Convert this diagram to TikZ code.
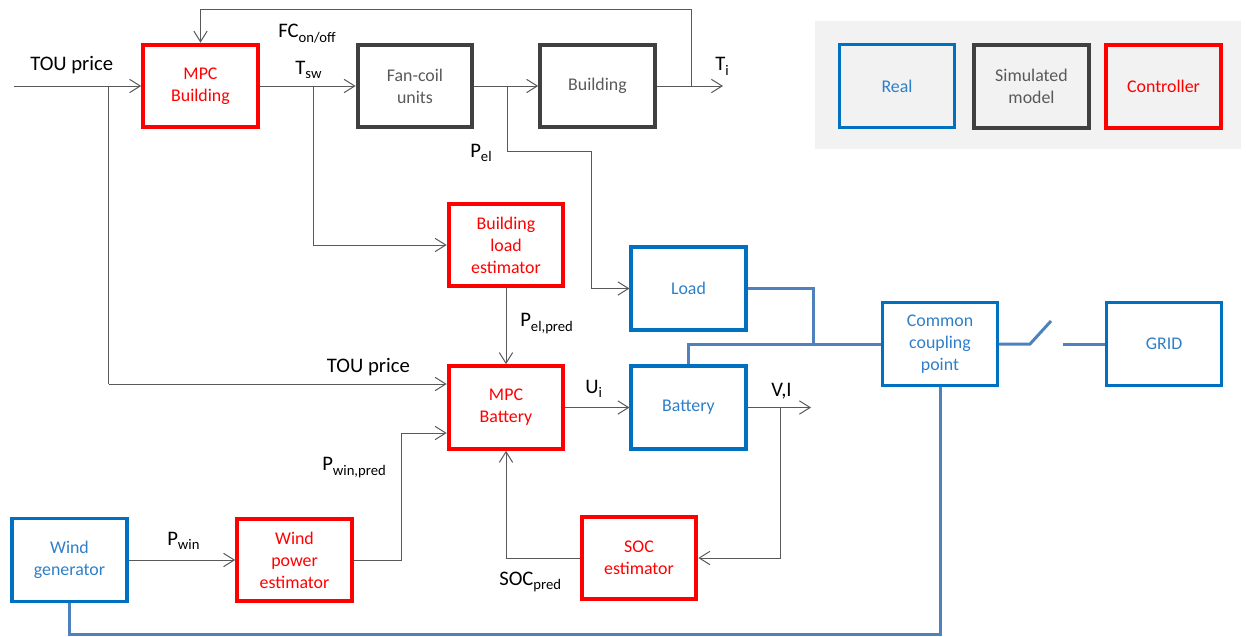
\documentclass[tikz,border=0pt]{standalone}
\usepackage{fontspec}
\setmainfont{Carlito}
\usetikzlibrary{calc, positioning, arrows.meta}
\definecolor{ctrlred}{HTML}{FF0000}
\definecolor{simgray}{HTML}{404040}
\definecolor{simtext}{HTML}{595959}
\definecolor{realblue}{HTML}{0070C0}
\definecolor{realtext}{HTML}{2E7FC8}
\definecolor{linegray}{HTML}{595959}
\definecolor{powerblue}{HTML}{4F81BD}
\definecolor{legendgray}{HTML}{F2F2F2}
\newcommand{\boxfont}{\fontsize{13.4}{16.5}\selectfont}
\newcommand{\lblfont}{\fontsize{15.5}{18}\selectfont}
\newcommand{\lblsub}[1]{\raisebox{-3.5pt}{\fontsize{11}{13}\selectfont #1}}
\tikzset{
    block/.style={rectangle, minimum width=86pt, minimum height=62pt, text centered, align=center, font=\boxfont},
    ctrl_block/.style={block, draw=ctrlred, line width=3pt, text=ctrlred},
    sim_block/.style={block, draw=simgray, line width=3pt, text=simtext},
    real_block/.style={block, draw=realblue, line width=2.6pt, text=realtext},
    arrow/.style={draw=linegray, line width=0.75pt, -{Straight Barb[length=8pt,width=10pt]}},
    thin_line/.style={draw=linegray, line width=0.75pt},
    power/.style={draw=powerblue, line width=2.25pt},
    sig_label/.style={anchor=base west, inner sep=0pt, font=\lblfont},
}

\begin{document}
\begin{tikzpicture}[x=0.75pt, y=-0.75pt]
      \useasboundingbox (0,0) rectangle (1246,636);

      % legend
      \node (legend_bg) [fill=legendgray, minimum width=319.5pt, minimum height=96pt, inner sep=0pt] at (1027.5,85) {};
      \node (real) [real_block] at (897,86) {Real};
      \node (simulated) [sim_block] at (1031.5,86.5) {Simulated\\model};
      \node (controller) [ctrl_block] at (1163.5,86.5) {Controller};

      \node (mpc_bld) [ctrl_block] at (200.5,86) {MPC\\Building};
      \node (fcu) [sim_block] at (415,86) {Fan-coil\\units};
      \node (bld) [sim_block] at (597.5,86) {Building};
      \node (ble) [ctrl_block] at (506,245) {Building\\load\\estimator};
      \node (mpc_bat) [ctrl_block] at (506,407.5) {MPC\\Battery};
      \node (load) [real_block] at (688.5,288.5) {Load};
      \node (bat) at (load |- mpc_bat) [real_block] {Battery};
      \node (ccp) [real_block] at (940,344) {Common\\coupling\\point};
      \node (grid) [real_block] at (1164,344) {GRID};
      \node (wg) [real_block] at (69.5,560) {Wind\\generator};
      \node (wpe) [ctrl_block] at (294.5,560) {Wind\\power\\estimator};
      \node (soc) [ctrl_block] at (639,558) {SOC\\estimator};

      \coordinate (tou_in) at (14,86);
      \coordinate (tou_br) at (108.5,86);
      \coordinate (tou_turn) at (108.5,384);
      \coordinate (tsw_br) at (313,86);
      \coordinate (pel_br) at (507,86);
      \coordinate (pel_turn) at (591,151);
      \coordinate (fb_br) at (691,86);
      \coordinate (fb_top) at (691,9);
      \coordinate (ti_end) at (723,86);
      \coordinate (vi_br) at (780.5,407.5);
      \coordinate (vi_end) at (811,407.5);
      \coordinate (wp_turn) at (401,433);
      \coordinate (bus) at (813.5,344);
      \coordinate (sw_a) at (1030,344);
      \coordinate (sw_b) at (1051,321);
      \coordinate (sw_c) at (1063,344);
      \coordinate (gnd_r) at (940,634);

      % signals
      \draw [arrow] (tou_in) -- (mpc_bld);
      \draw [thin_line] (tou_br) -- (tou_turn);
      \draw [arrow] (tou_turn) -- (tou_turn -| mpc_bat.west);
      \draw [arrow] (mpc_bld) -- (fcu);
      \draw [arrow] (fcu) -- (bld);
      \draw [arrow] (bld) -- (ti_end);
      \draw [arrow] (fb_br) -- (fb_top) -| (mpc_bld);
      \draw [arrow] (tsw_br) |- (ble);
      \draw [arrow] (pel_br) |- (pel_turn) |- (load);
      \draw [arrow] (ble) -- (mpc_bat);
      \draw [arrow] (mpc_bat) -- (bat);
      \draw [arrow] (bat) -- (vi_end);
      \draw [arrow] (vi_br) |- (soc);
      \draw [arrow] (soc) -| (mpc_bat);
      \draw [arrow] (wg) -- (wpe);
      \draw [arrow] (wpe) -| (wp_turn) -- (wp_turn -| mpc_bat.west);

      % power
      \draw [power] (load) -| (bus) -- (ccp);
      \draw [power] (bat) |- (bus);
      \draw [power] (ccp) -- (sw_a) -- (sw_b);
      \draw [power] (sw_c) -- (grid);
      \draw [power] (ccp) -- (gnd_r) -| (wg);

      % labels
      \node (tou_lbl) [sig_label] at (30,70.7) {TOU price};
      \node (fc_lbl) [sig_label] at (278,37.7) {FC\lblsub{on/off}};
      \node (tsw_lbl) [sig_label] at (295,74) {T\lblsub{sw}};
      \node (ti_lbl) [sig_label] at (715,70.7) {T\lblsub{i}};
      \node (pel_lbl) [sig_label] at (470,157) {P\lblsub{el}};
      \node (pelp_lbl) [sig_label] at (520,326.7) {P\lblsub{el,pred}};
      \node (tou2_lbl) [sig_label] at (326.7,372.3) {TOU price};
      \node (ui_lbl) [sig_label] at (585,393) {U\lblsub{i}};
      \node (vi_lbl) [sig_label] at (771,396) {V,I};
      \node (pwin_lbl) [sig_label] at (167,545) {P\lblsub{win}};
      \node (pwinp_lbl) [sig_label] at (322,470.7) {P\lblsub{win,pred}};
      \node (soc_lbl) [sig_label] at (499,585) {SOC\lblsub{pred}};
\end{tikzpicture}
\end{document}
